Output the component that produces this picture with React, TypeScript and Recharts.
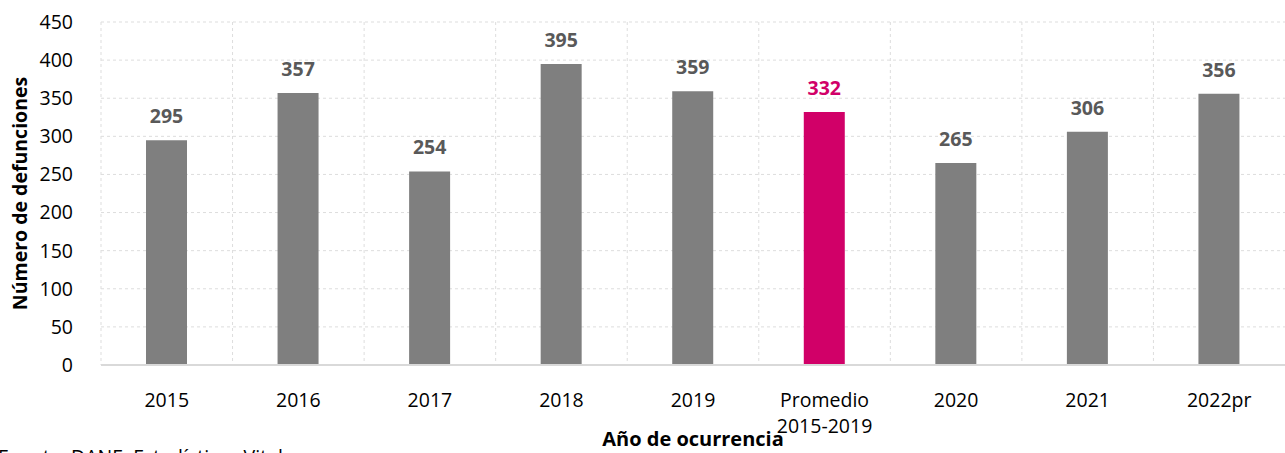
import { BarChart, Bar, XAxis, YAxis, CartesianGrid, LabelList, Cell, Label } from 'recharts';

const categories = ['2015', '2016', '2017', '2018', '2019', 'Promedio\n2015-2019', '2020', '2021', '2022pr'];
const deaths = [295, 357, 254, 395, 359, 332, 265, 306, 356];
const yTicks = [0, 50, 100, 150, 200, 250, 300, 350, 400, 450];

const GREY = '#7F7F7F';
const PINK = '#D10068';
const FONT = '"Open Sans", "Segoe UI", sans-serif';

const data = categories.map((c, i) => ({ year: c, value: deaths[i] }));

function XTick({ x, y, payload }: any) {
  const lines = String(payload.value).split('\n');
  return (
    <text x={x} y={y} textAnchor="middle" fontFamily={FONT} fontSize={19.5} fill="#000">
      {lines.map((l, i) => (
        <tspan key={i} x={x} dy={i === 0 ? 34 : 26}>
          {l}
        </tspan>
      ))}
    </text>
  );
}

function ValueLabel(props: any) {
  const { x, y, width, value, index } = props;
  const isAvg = categories[index].startsWith('Promedio');
  return (
    <text
      x={x + width / 2}
      y={y - 17}
      textAnchor="middle"
      fontFamily={FONT}
      fontSize={19.5}
      fontWeight={700}
      fill={isAvg ? PINK : '#595959'}
    >
      {value}
    </text>
  );
}

export default function App() {
  return (
    <div style={{ position: 'absolute', left: 0, top: 0, width: 1285, height: 453, overflow: 'hidden', background: '#fff' }}>
      <BarChart width={1285} height={453} data={data} margin={{ top: 22, right: 0, left: 0, bottom: 58 }}>
        <CartesianGrid
          stroke="#DDDDDD"
          strokeDasharray="3 3"
          verticalCoordinatesGenerator={({ offset }: any) =>
            categories.map((_, i) => offset.left + (i * offset.width) / categories.length)
          }
        />
        <XAxis
          dataKey="year"
          interval={0}
          height={30}
          tickLine={false}
          axisLine={{ stroke: '#D9D9D9', strokeWidth: 2 }}
          tick={<XTick />}
        >
          <Label
            content={({ viewBox }: any) => (
              <text
                x={viewBox.x + viewBox.width / 2}
                y={446}
                textAnchor="middle"
                fontFamily={FONT}
                fontSize={20}
                fontWeight={700}
                fill="#000"
              >
                Año de ocurrencia
              </text>
            )}
          />
        </XAxis>
        <YAxis
          width={101}
          domain={[0, 450]}
          ticks={yTicks}
          interval={0}
          tickLine={false}
          axisLine={false}
          tickSize={0}
          tickMargin={28}
          tick={{ fontFamily: FONT, fontSize: 19.5, fill: '#000' }}
        >
          <Label
            content={({ viewBox }: any) => (
              <text
                x={27}
                y={viewBox.y + viewBox.height / 2}
                transform={`rotate(-90 27 ${viewBox.y + viewBox.height / 2})`}
                textAnchor="middle"
                fontFamily={FONT}
                fontSize={19.5}
                fontWeight={700}
                fill="#000"
              >
                Número de defunciones
              </text>
            )}
          />
        </YAxis>
        <Bar dataKey="value" barSize={41} isAnimationActive={false}>
          {data.map((d, i) => (
            <Cell key={i} fill={d.year.startsWith('Promedio') ? PINK : GREY} />
          ))}
          <LabelList dataKey="value" content={<ValueLabel />} />
        </Bar>
      </BarChart>
      <div
        style={{
          position: 'absolute',
          left: -2,
          top: 443,
          fontFamily: FONT,
          fontSize: 19.5,
          whiteSpace: 'nowrap',
          color: '#000',
        }}
      >
        Fuente: DANE, Estadísticas Vitales
      </div>
    </div>
  );
}
